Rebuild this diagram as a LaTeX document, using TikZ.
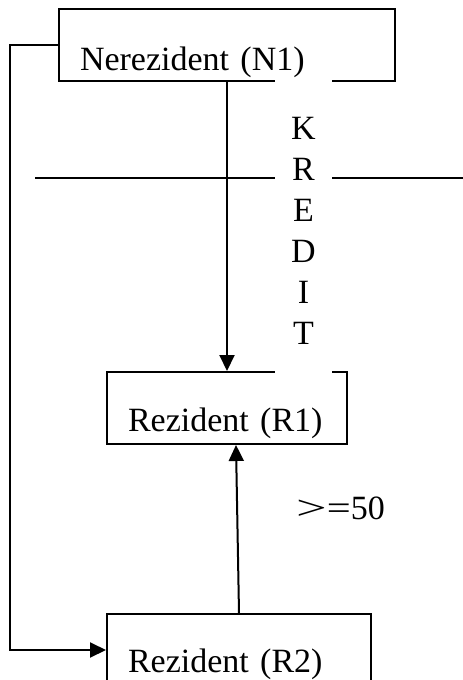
\documentclass[tikz,border=0pt]{standalone}
\usepackage{fontspec}
\setmainfont{Liberation Serif}
\usetikzlibrary{positioning,arrows.meta}

\begin{document}
\begin{tikzpicture}[x=1pt, y=-1pt, line width=2pt,
  every node/.style={font=\fontsize{34}{41}\selectfont},
  okvir/.style={draw, rectangle, inner xsep=21pt, inner ysep=0pt, text height=59pt, text depth=13pt, align=left},
  strelica/.style={-{Triangle[length=16pt,width=15pt]}}]
  \useasboundingbox (0,0) rectangle (463,680);
  \node[okvir, text width=294pt, text height=61pt, text depth=11pt] (n1) at (227,45) {Nerezident (N1)};
  \node[okvir, text width=198pt, below=289pt of n1] (r1) {Rezident (R1)};
  \node[okvir, text width=222pt, below=168pt of r1, xshift=12pt, text height=58pt, text depth=14pt] (r2) {Rezident (R2)};
  \coordinate (crtaL) at (35,178);
  \coordinate (crtaD) at (463,178);
  \coordinate (r1dno) at ([xshift=9pt]r1.south);
  \draw (crtaL) -- (crtaD);
  \draw[strelica] (n1) -- (r1);
  \draw[strelica] (r2.north) -- (r1dno) node[pos=0.62, anchor=west, xshift=58pt, inner sep=0pt] (uvjet) {\scalebox{1.6}[1]{>}\scalebox{1.25}[1]{=}50};
  \draw[strelica] (n1.west) -- ++(-48,0) |- (r2.west);
  \node[fill=white, minimum width=57pt, minimum height=304pt, align=center, inner sep=0pt] (kredit) at (303.5,231) {K\\R\\E\\D\\I\\T};
\end{tikzpicture}
\end{document}
